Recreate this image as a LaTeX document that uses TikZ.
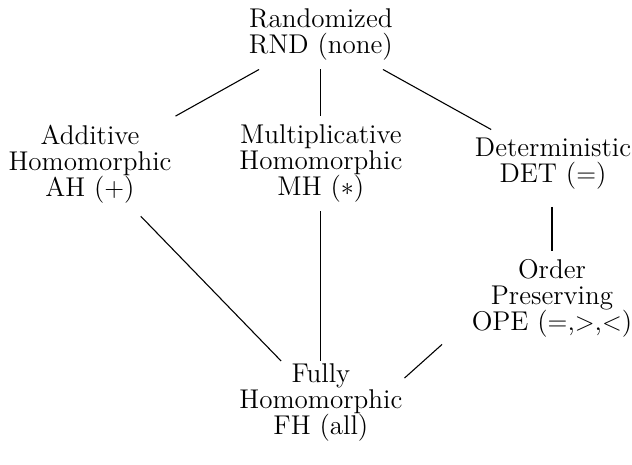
\documentclass[tikz,border=0pt]{standalone}
\usetikzlibrary{calc,positioning}

\tikzset{
  scheme/.style={align=center,inner sep=2pt,outer sep=2pt,font=\fontsize{12.5}{12}\selectfont},
  link/.style={draw,line width=0.5pt}
}

\begin{document}
\begin{tikzpicture}

  \useasboundingbox (0,0) rectangle (10.243,7.536);

  \node[scheme] at(5.200,6.969) (rnd) {Randomized\\RND (none)};

  \node[scheme] at(1.459,4.880) (ah) {Additive\\Homomorphic\\AH ($+$)};
  \node[scheme] at(5.200,4.880) (mh) {Multiplicative\\Homomorphic\\MH ($\ast$)};
  \node[scheme] at(8.963,4.880) (det) {Deterministic\\DET ($=$)};

  \node[scheme] at(8.946,2.700) (ope) {Order\\Preserving\\OPE ($=$,$>$,$<$)};
  \node[scheme,inner sep=1pt,outer sep=0pt] at(5.200,1.020) (fh) {Fully\\Homomorphic\\FH (all)};

  \draw[link] (rnd) -- (ah);
  \draw[link] (rnd) -- (mh);
  \draw[link] (rnd) -- (det);

  \draw[link,shorten <=3pt] (ah) -- (fh);
  \draw[link] (mh) -- (fh);
  \draw[link,shorten <=4pt] (det.south -| ope.north) -- (ope);
  % OPE to FH is steeper than centre to centre
  \draw[link,shorten <=13pt] (ope.197) -- (fh.16);

\end{tikzpicture}
\end{document}
